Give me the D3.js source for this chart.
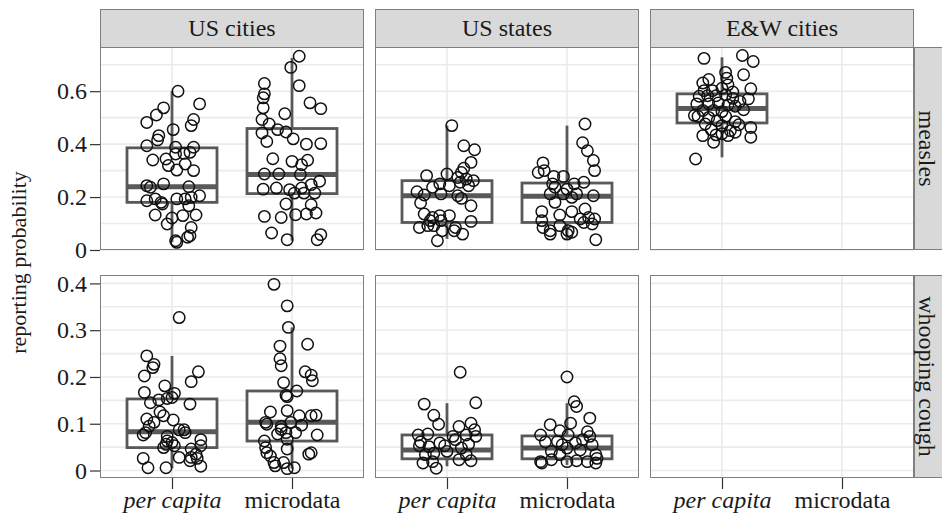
<!DOCTYPE html>
<html>
<head>
<meta charset="utf-8">
<script src="https://cdn.jsdelivr.net/npm/d3@7"></script>
<style>
  body { margin: 0; background: #fff; }
  svg { display: block; }
  svg text { font-family: "Liberation Serif", "Times New Roman", Times, serif; }
</style>
</head>
<body>
<svg id="chart" width="942" height="524"></svg>
<script>
// ---- facets, categories, ticks ----
const facetCols = ["US cities", "US states", "E&W cities"];
const facetRows = ["measles", "whooping cough"];
const categories = ["per capita", "microdata"];
const yTitle = "reporting probability";

const measlesTicks = [0, 0.2, 0.4, 0.6];
const measlesGrid = [0, 0.1, 0.2, 0.3, 0.4, 0.5, 0.6, 0.7];
const measlesDomain = [0, 0.767];
const whoopingTicks = [0, 0.1, 0.2, 0.3, 0.4];
const whoopingGrid = [0, 0.05, 0.1, 0.15, 0.2, 0.25, 0.3, 0.35, 0.4];
const whoopingDomain = [-0.016, 0.418];

// ---- observations: [horizontal jitter (category units), reporting probability] ----
const usCitiesMeaslesPerCapita = [[0.05,0.60],[0.23,0.552],[-0.07,0.537],[-0.13,0.51],[-0.21,0.482],[0.18,0.493],[0.16,0.47],[0.01,0.455],[-0.11,0.432],[-0.12,0.416],[-0.21,0.394],[0.03,0.388],[0.18,0.388],[0.15,0.369],[0.03,0.363],[0.10,0.365],[-0.16,0.340],[-0.05,0.344],[-0.03,0.319],[0.11,0.325],[0.04,0.302],[0.18,0.300],[-0.21,0.243],[-0.18,0.237],[-0.07,0.25],[0.14,0.239],[-0.21,0.186],[-0.14,0.193],[-0.09,0.18],[-0.08,0.174],[0.04,0.193],[0.11,0.193],[0.16,0.199],[0.23,0.205],[0.14,0.167],[-0.14,0.132],[0.09,0.13],[0.20,0.132],[0,0.121],[-0.04,0.098],[0.16,0.085],[0.03,0.035],[0.04,0.029],[0.13,0.048],[0.15,0.054]];
const usCitiesMeaslesMicrodata = [[0.06,0.732],[-0.01,0.69],[0.06,0.621],[-0.23,0.629],[-0.23,0.59],[-0.24,0.575],[0.15,0.556],[0.24,0.534],[-0.24,0.537],[-0.06,0.515],[-0.25,0.493],[-0.19,0.476],[-0.12,0.455],[-0.05,0.446],[-0.25,0.442],[-0.21,0.41],[0.01,0.42],[0.12,0.40],[0.24,0.402],[-0.16,0.345],[0,0.335],[0.13,0.339],[0.08,0.322],[-0.23,0.287],[-0.11,0.287],[0.07,0.285],[-0.24,0.23],[-0.13,0.234],[-0.02,0.228],[0.08,0.234],[0.16,0.247],[0.23,0.26],[0.02,0.215],[0.10,0.215],[0.19,0.215],[-0.05,0.174],[0.16,0.171],[-0.23,0.127],[-0.09,0.123],[0.03,0.133],[0.12,0.136],[0.20,0.14],[-0.17,0.064],[-0.04,0.039],[0.21,0.039],[0.24,0.058]];
const usStatesMeaslesPerCapita = [[0.04,0.47],[0.14,0.394],[0.23,0.379],[0.20,0.331],[0.14,0.309],[0.12,0.293],[-0.17,0.281],[0,0.287],[0.09,0.274],[0.16,0.268],[0.22,0.262],[-0.06,0.25],[0.02,0.243],[-0.12,0.237],[0.18,0.243],[-0.05,0.212],[-0.25,0.22],[-0.19,0.208],[0.09,0.205],[0.12,0.195],[-0.22,0.178],[0.20,0.167],[-0.19,0.136],[-0.12,0.123],[-0.06,0.13],[0.02,0.13],[-0.14,0.111],[-0.05,0.111],[-0.23,0.085],[-0.11,0.092],[0.07,0.085],[0.20,0.108],[-0.04,0.073],[0.06,0.073],[0.13,0.06],[-0.08,0.035],[-0.16,0.092],[0.11,0.256]];
const usStatesMeaslesMicrodata = [[0.15,0.476],[0.13,0.405],[0.17,0.375],[0.22,0.338],[0.23,0.30],[-0.20,0.329],[-0.24,0.293],[-0.19,0.30],[-0.11,0.278],[-0.03,0.278],[0.14,0.256],[-0.12,0.25],[0.06,0.25],[-0.10,0.237],[0,0.23],[-0.14,0.212],[-0.03,0.212],[0.08,0.212],[0.22,0.205],[0.04,0.199],[-0.10,0.18],[-0.21,0.145],[-0.06,0.132],[0.04,0.145],[0.15,0.155],[-0.21,0.111],[0.11,0.117],[0.18,0.123],[0.23,0.117],[-0.20,0.085],[-0.14,0.073],[-0.06,0.092],[0.01,0.073],[0.14,0.104],[0.21,0.098],[-0.14,0.06],[0.04,0.067],[0.24,0.039],[0,0.06]];
const ewCitiesMeaslesPerCapita = [[-0.15,0.724],[0.17,0.735],[0.26,0.712],[0.03,0.671],[0.18,0.662],[0.04,0.649],[0.05,0.624],[-0.11,0.644],[-0.16,0.631],[0.24,0.609],[-0.15,0.602],[-0.08,0.602],[0,0.611],[-0.19,0.581],[-0.12,0.583],[-0.05,0.583],[0.03,0.586],[0.09,0.573],[0.15,0.561],[0.22,0.571],[-0.21,0.552],[-0.11,0.552],[-0.03,0.556],[0.05,0.548],[0.11,0.543],[0.18,0.53],[-0.16,0.527],[-0.07,0.527],[0,0.523],[-0.23,0.508],[-0.20,0.505],[-0.11,0.501],[0.03,0.505],[-0.04,0.489],[0.11,0.485],[-0.14,0.476],[0,0.47],[0.14,0.473],[0.24,0.463],[-0.09,0.455],[0.07,0.451],[-0.16,0.432],[-0.05,0.435],[0.05,0.432],[0.24,0.426],[-0.07,0.407],[0,0.439],[-0.22,0.344],[0.11,0.445],[0.09,0.597]];
const usCitiesWhoopingPerCapita = [[0.06,0.327],[-0.21,0.245],[-0.15,0.227],[-0.16,0.22],[0.22,0.211],[-0.23,0.202],[0.16,0.19],[-0.06,0.181],[0.02,0.165],[-0.23,0.167],[-0.18,0.145],[-0.11,0.151],[-0.04,0.154],[0,0.156],[0.15,0.142],[-0.10,0.125],[-0.21,0.11],[-0.07,0.117],[0.01,0.108],[-0.19,0.095],[-0.15,0.103],[-0.22,0.081],[-0.24,0.076],[-0.04,0.073],[0.06,0.087],[0.10,0.087],[0.11,0.081],[-0.05,0.056],[-0.07,0.049],[0.02,0.053],[0.24,0.066],[0.24,0.053],[0.16,0.046],[0.20,0.035],[0.16,0.028],[0.21,0.026],[0.15,0.021],[0.24,0.009],[0.06,0.028],[-0.24,0.026],[-0.20,0.006],[-0.05,0.006],[-0.04,0.063],[0,0.06]];
const usCitiesWhoopingMicrodata = [[-0.15,0.398],[-0.04,0.352],[-0.03,0.306],[-0.10,0.266],[0.13,0.27],[-0.10,0.239],[-0.09,0.224],[0.11,0.211],[0.16,0.204],[0.17,0.192],[-0.07,0.188],[0.04,0.17],[-0.05,0.161],[-0.04,0.158],[-0.18,0.125],[-0.04,0.128],[0.06,0.117],[0.16,0.117],[0.20,0.118],[-0.22,0.103],[-0.21,0.099],[-0.09,0.094],[-0.01,0.103],[0.08,0.097],[-0.12,0.078],[-0.05,0.081],[0.03,0.081],[-0.04,0.067],[0.21,0.076],[-0.23,0.063],[-0.22,0.049],[-0.21,0.038],[-0.18,0.031],[-0.04,0.046],[0.14,0.035],[0.16,0.038],[-0.14,0.01],[-0.07,0.017],[-0.04,0.004],[0.02,0.006],[-0.15,0.017],[-0.09,0.088]];
const usStatesWhoopingPerCapita = [[0.11,0.21],[-0.19,0.142],[0.24,0.145],[-0.11,0.118],[-0.07,0.099],[0.20,0.101],[0.10,0.094],[0.23,0.087],[-0.24,0.076],[-0.16,0.078],[0.16,0.076],[-0.22,0.061],[0.07,0.066],[-0.02,0.053],[0.18,0.056],[-0.23,0.053],[-0.15,0.051],[0.12,0.048],[0,0.041],[-0.11,0.037],[-0.20,0.016],[-0.12,0.019],[-0.09,0.005],[0.10,0.023],[0.20,0.021],[0.05,0.073],[0.24,0.073],[-0.18,0.034],[0.16,0.034],[-0.06,0.059]];
const usStatesWhoopingMicrodata = [[0,0.20],[0.06,0.147],[0.08,0.137],[0.19,0.112],[-0.14,0.098],[0.03,0.101],[-0.06,0.085],[0.17,0.083],[-0.22,0.076],[0.01,0.076],[-0.18,0.061],[-0.08,0.062],[0.13,0.066],[0.21,0.055],[-0.13,0.041],[0,0.048],[0.11,0.044],[0.24,0.034],[-0.22,0.019],[-0.13,0.023],[0,0.019],[0.08,0.021],[0.24,0.016],[0.17,0.019],[0.25,0.026],[-0.04,0.055],[0.07,0.059],[-0.21,0.016],[0.19,0.073],[-0.06,0.034]];

// ---- box summaries: [lower whisker, Q1, median, Q3, upper whisker] ----
const usCitiesMeaslesPerCapitaBox = [0.03, 0.18, 0.239, 0.386, 0.60];
const usCitiesMeaslesMicrodataBox = [0.035, 0.213, 0.285, 0.459, 0.726];
const usStatesMeaslesPerCapitaBox = [0.042, 0.104, 0.205, 0.262, 0.47];
const usStatesMeaslesMicrodataBox = [0.039, 0.104, 0.203, 0.253, 0.47];
const ewCitiesMeaslesPerCapitaBox = [0.35, 0.48, 0.535, 0.59, 0.728];
const usCitiesWhoopingPerCapitaBox = [0.005, 0.049, 0.083, 0.153, 0.245];
const usCitiesWhoopingMicrodataBox = [0.004, 0.063, 0.103, 0.17, 0.306];
const usStatesWhoopingPerCapitaBox = [0.009, 0.025, 0.044, 0.076, 0.144];
const usStatesWhoopingMicrodataBox = [0.012, 0.025, 0.048, 0.074, 0.144];

const groups = [
  { col: 0, row: 0, cat: "per capita", points: usCitiesMeaslesPerCapita, box: usCitiesMeaslesPerCapitaBox },
  { col: 0, row: 0, cat: "microdata",  points: usCitiesMeaslesMicrodata, box: usCitiesMeaslesMicrodataBox },
  { col: 1, row: 0, cat: "per capita", points: usStatesMeaslesPerCapita, box: usStatesMeaslesPerCapitaBox },
  { col: 1, row: 0, cat: "microdata",  points: usStatesMeaslesMicrodata, box: usStatesMeaslesMicrodataBox },
  { col: 2, row: 0, cat: "per capita", points: ewCitiesMeaslesPerCapita, box: ewCitiesMeaslesPerCapitaBox },
  { col: 0, row: 1, cat: "per capita", points: usCitiesWhoopingPerCapita, box: usCitiesWhoopingPerCapitaBox },
  { col: 0, row: 1, cat: "microdata",  points: usCitiesWhoopingMicrodata, box: usCitiesWhoopingMicrodataBox },
  { col: 1, row: 1, cat: "per capita", points: usStatesWhoopingPerCapita, box: usStatesWhoopingPerCapitaBox },
  { col: 1, row: 1, cat: "microdata",  points: usStatesWhoopingMicrodata, box: usStatesWhoopingMicrodataBox }
];

// ---- layout ----
const panelLeft = 100, panelW = 264, colGap = 11;
const stripTop = 9, stripH = 38;
const rowTop0 = stripTop + stripH, panelH = 203, rowGap = 25;
const rightStripW = 27;

const svg = d3.select("#chart");

const colX = facetCols.map((_, i) => panelLeft + i * (panelW + colGap));
const rowY = facetRows.map((_, i) => rowTop0 + i * (panelH + rowGap));

const rowSpec = [
  { domain: measlesDomain, ticks: measlesTicks, grid: measlesGrid },
  { domain: whoopingDomain, ticks: whoopingTicks, grid: whoopingGrid }
];

const yScales = rowSpec.map((s, r) =>
  d3.scaleLinear().domain(s.domain).range([rowY[r] + panelH, rowY[r]]));
const xScales = colX.map(x0 =>
  d3.scalePoint().domain(categories).range([x0, x0 + panelW]).padding(0.6));

const gridColor = "#ebebeb";
const boxColor = "#595959";
const fmt = d => d === 0 ? "0" : d3.format(".1f")(d);

// panels: background + grid
facetRows.forEach((_, r) => {
  facetCols.forEach((_, c) => {
    const g = svg.append("g");
    const x = xScales[c], y = yScales[r];
    g.append("rect")
      .attr("x", colX[c]).attr("y", rowY[r])
      .attr("width", panelW).attr("height", panelH)
      .attr("fill", "#fff");
    g.selectAll("line.h").data(rowSpec[r].grid).join("line")
      .attr("x1", colX[c]).attr("x2", colX[c] + panelW)
      .attr("y1", d => y(d)).attr("y2", d => y(d))
      .attr("stroke", gridColor).attr("stroke-width", 1.6);
    g.selectAll("line.v").data(categories).join("line")
      .attr("x1", d => x(d)).attr("x2", d => x(d))
      .attr("y1", rowY[r]).attr("y2", rowY[r] + panelH)
      .attr("stroke", gridColor).attr("stroke-width", 1.6);
  });
});

// boxes and jittered points
groups.forEach(gr => {
  const x = xScales[gr.col], y = yScales[gr.row];
  const step = x.step();
  const cx = x(gr.cat);
  const half = 0.375 * step;
  const [lo, q1, med, q3, hi] = gr.box;
  const g = svg.append("g");
  g.append("line").attr("x1", cx).attr("x2", cx).attr("y1", y(q3)).attr("y2", y(hi))
    .attr("stroke", boxColor).attr("stroke-width", 2.8);
  g.append("line").attr("x1", cx).attr("x2", cx).attr("y1", y(q1)).attr("y2", y(lo))
    .attr("stroke", boxColor).attr("stroke-width", 2.8);
  g.append("rect")
    .attr("x", cx - half).attr("y", y(q3))
    .attr("width", 2 * half).attr("height", y(q1) - y(q3))
    .attr("fill", "#fff").attr("stroke", boxColor).attr("stroke-width", 2.8);
  g.append("line").attr("x1", cx - half).attr("x2", cx + half)
    .attr("y1", y(med)).attr("y2", y(med))
    .attr("stroke", boxColor).attr("stroke-width", 5);
  g.selectAll("circle").data(gr.points).join("circle")
    .attr("cx", d => cx + d[0] * step)
    .attr("cy", d => y(d[1]))
    .attr("r", 5.7)
    .attr("fill", "none")
    .attr("stroke", "#111")
    .attr("stroke-width", 1.5);
});

// panel borders
facetRows.forEach((_, r) => {
  facetCols.forEach((_, c) => {
    svg.append("rect")
      .attr("x", colX[c] + 0.5).attr("y", rowY[r] + 0.5)
      .attr("width", panelW - 1).attr("height", panelH - 1)
      .attr("fill", "none").attr("stroke", "#7f7f7f").attr("stroke-width", 1);
  });
});

// column strips
facetCols.forEach((name, c) => {
  svg.append("rect")
    .attr("x", colX[c] + 0.5).attr("y", stripTop + 0.5)
    .attr("width", panelW - 1).attr("height", stripH)
    .attr("fill", "#d9d9d9").attr("stroke", "#7f7f7f").attr("stroke-width", 1);
  svg.append("text")
    .attr("x", colX[c] + panelW / 2).attr("y", stripTop + stripH / 2)
    .attr("dy", "0.35em").attr("text-anchor", "middle")
    .attr("font-size", 24).attr("fill", "#1a1a1a")
    .text(name);
});

// row strips
const rsx = colX[2] + panelW;
facetRows.forEach((name, r) => {
  svg.append("rect")
    .attr("x", rsx + 0.5).attr("y", rowY[r] + 0.5)
    .attr("width", rightStripW + 2).attr("height", panelH - 1)
    .attr("fill", "#d9d9d9").attr("stroke", "#7f7f7f").attr("stroke-width", 1);
  const cy = rowY[r] + panelH / 2;
  svg.append("text")
    .attr("transform", `translate(${rsx + rightStripW / 2},${cy}) rotate(90)`)
    .attr("dy", "0.35em").attr("text-anchor", "middle")
    .attr("font-size", 24).attr("fill", "#1a1a1a")
    .text(name);
});

// y axes
facetRows.forEach((_, r) => {
  const ax = svg.append("g")
    .attr("transform", `translate(${colX[0]},0)`)
    .call(d3.axisLeft(yScales[r]).tickValues(rowSpec[r].ticks)
      .tickFormat(fmt).tickSizeInner(10).tickSizeOuter(0).tickPadding(3));
  ax.select(".domain").remove();
  ax.selectAll(".tick line").attr("stroke", "#333").attr("stroke-width", 1.2);
  ax.selectAll(".tick text").attr("font-size", 24).attr("fill", "#1a1a1a");
});

// x axes
facetCols.forEach((_, c) => {
  const ax = svg.append("g")
    .attr("transform", `translate(0,${rowY[1] + panelH})`)
    .call(d3.axisBottom(xScales[c]).tickSizeInner(11).tickSizeOuter(0).tickPadding(2));
  ax.select(".domain").remove();
  ax.selectAll(".tick line").attr("stroke", "#333").attr("stroke-width", 1.2);
  ax.selectAll(".tick text").attr("font-size", 24).attr("fill", "#1a1a1a")
    .attr("font-style", d => d === "per capita" ? "italic" : "normal");
});

// y title
svg.append("text")
  .attr("transform", `translate(18,${(rowY[0] + rowY[1] + panelH) / 2}) rotate(-90)`)
  .attr("dy", "0.35em").attr("text-anchor", "middle")
  .attr("font-size", 22).attr("fill", "#1a1a1a")
  .text(yTitle);
</script>
</body>
</html>
